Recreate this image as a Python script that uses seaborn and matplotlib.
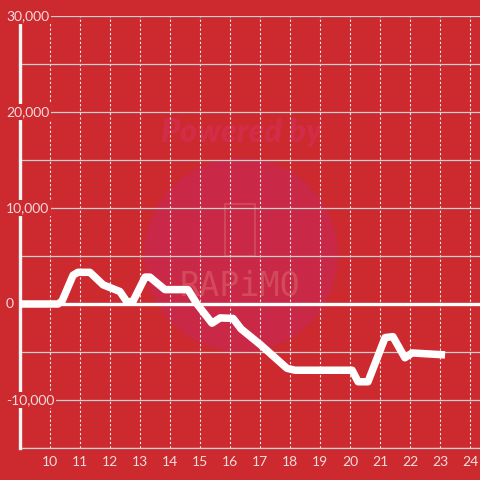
import matplotlib
matplotlib.use("Agg")
import matplotlib.pyplot as plt
import matplotlib.transforms as mtransforms
from matplotlib.patches import Ellipse, FancyBboxPatch
import seaborn as sns
import pandas as pd

# ---- data ----
hours = [9.0, 10.27, 10.4, 10.77, 10.93, 11.33, 11.77, 12.33, 12.57, 12.77,
         13.17, 13.33, 13.83, 14.6, 14.9, 15.4, 15.67, 16.1, 16.37, 17.0,
         17.9, 18.17, 20.07, 20.27, 20.6, 21.17, 21.43, 21.83, 22.07, 23.17]
values = [0, 0, 300, 3000, 3300, 3300, 2000, 1300, 200, 300,
          2800, 2800, 1500, 1500, 0, -2000, -1450, -1500, -2600, -4200,
          -6700, -6900, -6900, -8100, -8100, -3500, -3400, -5600, -5100, -5300]
x_ticks = list(range(10, 25))
y_ticks = [-10000, 0, 10000, 20000, 30000]
y_minor = [-15000, -5000, 5000, 15000, 25000]

BG = "#cc2a2f"
TXT = "#f3dcdc"

sns.set_style("white")
plt.rcParams["font.family"] = ["Lato", "DejaVu Sans"]

fig = plt.figure(figsize=(4.8, 4.8), dpi=100, facecolor=BG)
ax = fig.add_axes([20 / 480, 1 - 448 / 480, 460 / 480, 432 / 480])
ax.set_facecolor(BG)
ax.set_xlim(9.0, 9.0 + 460 / 30)
ax.set_ylim(-15000, 30000)

# watermark
ax.add_patch(Ellipse((9 + (241 - 20) / 30, (304 - 255) / 96 * 10000),
                     2 * 97 / 30, 2 * 97 / 96 * 10000,
                     facecolor="#c92846", edgecolor="none", zorder=0))
ax.text(9 + (242 - 20) / 30, (304 - 133) / 96 * 10000, "Powered by",
        ha="center", va="center", fontsize=23, fontweight="heavy",
        fontstyle="italic", color="#d12d48", zorder=0.5)
ax.add_patch(FancyBboxPatch((9 + (225 - 20) / 30, (304 - 256) / 96 * 10000),
                            30 / 30, 52 / 96 * 10000,
                            boxstyle="round,pad=0.0,rounding_size=0.08",
                            facecolor="none", edgecolor="#d24a5c",
                            linewidth=1.3, zorder=0.5))
ax.text(9 + (240 - 20) / 30, (304 - 287) / 96 * 10000, "RAPiMO",
        ha="center", va="center", fontsize=24, color="#d24a5c",
        family=["DejaVu Sans Mono"], fontweight="light", zorder=0.5)

# grid
ax.set_xticks(x_ticks)
ax.set_xticklabels([str(t) for t in x_ticks], color=TXT, fontsize=10)
ax.tick_params(axis="x", length=0, pad=6)
ax.set_yticks(y_ticks + y_minor)
ax.set_yticklabels([])
ax.tick_params(axis="y", length=0)
ax.grid(False)
for t in x_ticks:
    ax.axvline(t, color="#ececec", linewidth=0.8, linestyle=(0, (2, 2)), zorder=1)
for v in y_ticks + y_minor:
    if v != 0:
        ax.axhline(v, color="#cfcfcf", linewidth=0.9, zorder=1)
ax.axhline(0, color="white", linewidth=2.4, zorder=2)

for s in ["top", "right"]:
    ax.spines[s].set_visible(False)
ax.spines["bottom"].set_color("#cfcfcf")
ax.spines["bottom"].set_linewidth(0.9)
ax.spines["left"].set_color("#f4f4f4")
ax.spines["left"].set_linewidth(2.4)
ax.spines["left"].set_zorder(3)

# y labels
trans = mtransforms.blended_transform_factory(ax.transAxes, ax.transData)
for v in y_ticks:
    ax.text((6 - 20) / 460, v, f"{v:,}", transform=trans, ha="left",
            va="center", fontsize=10, color=TXT, clip_on=False, zorder=5,
            bbox=dict(facecolor=BG, edgecolor="none", pad=1.5))

df = pd.DataFrame({"hour": hours, "value": values})
sns.lineplot(data=df, x="hour", y="value", ax=ax, color="white",
             linewidth=5.4, zorder=4, solid_capstyle="butt",
             solid_joinstyle="round")
ax.set_xlabel("")
ax.set_ylabel("")

fig.savefig("out.png", dpi=100, facecolor=BG)
